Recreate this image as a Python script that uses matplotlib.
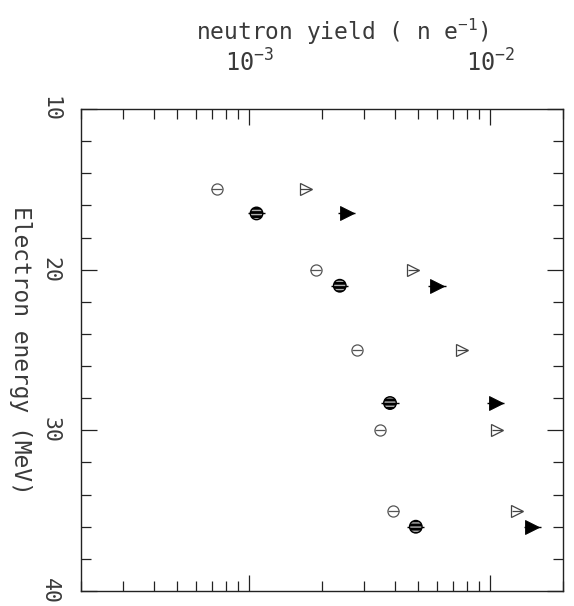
import matplotlib
matplotlib.use("Agg")
import matplotlib.pyplot as plt
from matplotlib.ticker import LogLocator, MultipleLocator, FixedLocator, FuncFormatter
import numpy as np

# Neutron yield (n per electron) versus electron energy (MeV)
energy_open = [15, 20, 25, 30, 35]
yield_open_circle = [7.3e-4, 1.88e-3, 2.79e-3, 3.48e-3, 3.96e-3]
yield_open_tri = [1.71e-3, 4.79e-3, 7.64e-3, 1.067e-2, 1.29e-2]
rel_err_open_circle = [0.05, 0.05, 0.05, 0.05, 0.05]
rel_err_open_tri = [0.05, 0.05, 0.05, 0.05, 0.05]

energy_filled = [16.5, 21, 28.3, 36]
yield_filled_circle = [1.07e-3, 2.37e-3, 3.83e-3, 4.90e-3]
yield_filled_tri = [2.53e-3, 6.0e-3, 1.05e-2, 1.49e-2]
rel_err_filled_circle = [0.085, 0.085, 0.085, 0.085]
rel_err_filled_tri = [0.085, 0.085, 0.085, 0.085]

x_range = (2e-4, 2e-2)
e_range = (10, 40)
x_major = [1e-3, 1e-2]
e_major = [10, 20, 30, 40]

FONT = "DejaVu Sans Mono"
INK = "#222222"
TEXT = "#3a3a3a"

fig = plt.figure(figsize=(5.74, 6.06), dpi=100)
ax = fig.add_axes([81 / 574, 1 - 591 / 606, (563 - 81) / 574, (591 - 109) / 606])


def xerr_of(vals, rel):
    v = np.asarray(vals)
    r = np.asarray(rel)
    return [v - v / (1 + r), v * r]


# open circles
ax.errorbar(yield_open_circle, energy_open, xerr=xerr_of(yield_open_circle, rel_err_open_circle),
            fmt="o", ms=8.0, mfc="none", mec="#555555", mew=0.9,
            ecolor="#555555", elinewidth=0.9, capsize=0, zorder=3)
# open triangles
ax.errorbar(yield_open_tri, energy_open, xerr=xerr_of(yield_open_tri, rel_err_open_tri),
            fmt=">", ms=8.0, mfc="none", mec="#444444", mew=0.9,
            ecolor="#444444", elinewidth=0.9, capsize=0, zorder=3)
# filled circles (striped)
ax.errorbar(yield_filled_circle, energy_filled, xerr=xerr_of(yield_filled_circle, rel_err_filled_circle),
            fmt="none", ecolor="black", elinewidth=1.0, capsize=0, zorder=2)
ax.scatter(yield_filled_circle, energy_filled, s=9.0 ** 2, marker="o",
           facecolor="black", edgecolor="#b0b0b0", hatch="----", linewidth=0, zorder=3)
ax.scatter(yield_filled_circle, energy_filled, s=9.0 ** 2, marker="o",
           facecolor="none", edgecolor="black", linewidth=1.0, zorder=4)
# filled triangles
ax.errorbar(yield_filled_tri, energy_filled, xerr=xerr_of(yield_filled_tri, rel_err_filled_tri),
            fmt=">", ms=9.5, mfc="black", mec="black", mew=0.6,
            ecolor="black", elinewidth=1.0, capsize=0, zorder=3)

ax.set_xscale("log")
ax.set_xlim(*x_range)
ax.set_ylim(e_range[1], e_range[0])

ax.xaxis.set_major_locator(FixedLocator(x_major))
ax.xaxis.set_minor_locator(LogLocator(base=10, subs=np.arange(2, 10)))


def sci_label(v, pos):
    exp = int(round(np.log10(v)))
    return r"$\mathregular{10^{%d}}$" % exp


ax.xaxis.set_major_formatter(FuncFormatter(sci_label))
ax.xaxis.set_minor_formatter(FuncFormatter(lambda v, p: ""))
ax.yaxis.set_major_locator(FixedLocator(e_major))
ax.yaxis.set_minor_locator(MultipleLocator(2))

ax.tick_params(which="both", direction="in", top=True, bottom=True, left=True, right=True,
               labeltop=True, labelbottom=False, color=INK, width=0.9)
ax.tick_params(which="major", length=11.5)
ax.tick_params(which="minor", length=7.2)
ax.tick_params(axis="x", which="major", pad=23, labelsize=17, labelcolor=TEXT)
ax.tick_params(axis="y", which="major", pad=15, labelsize=15.5, labelcolor=TEXT, labelrotation=-90)

for lab in ax.get_xticklabels() + ax.get_yticklabels():
    lab.set_fontfamily(FONT)
for lab in ax.get_yticklabels():
    lab.set_verticalalignment("center")

for sp in ax.spines.values():
    sp.set_color(INK)
    sp.set_linewidth(1.0)

fig.text(342 / 574, 1 - 32 / 606, r"neutron yield ( n e$\mathregular{^{-1}}$)",
         ha="center", va="center", fontsize=16.5, family=FONT, color=TEXT)
fig.text(20 / 574, 1 - 350 / 606, "Electron energy (MeV)", rotation=-90,
         ha="center", va="center", fontsize=16.5, family=FONT, color=TEXT)

fig.savefig("out.png", dpi=100)
